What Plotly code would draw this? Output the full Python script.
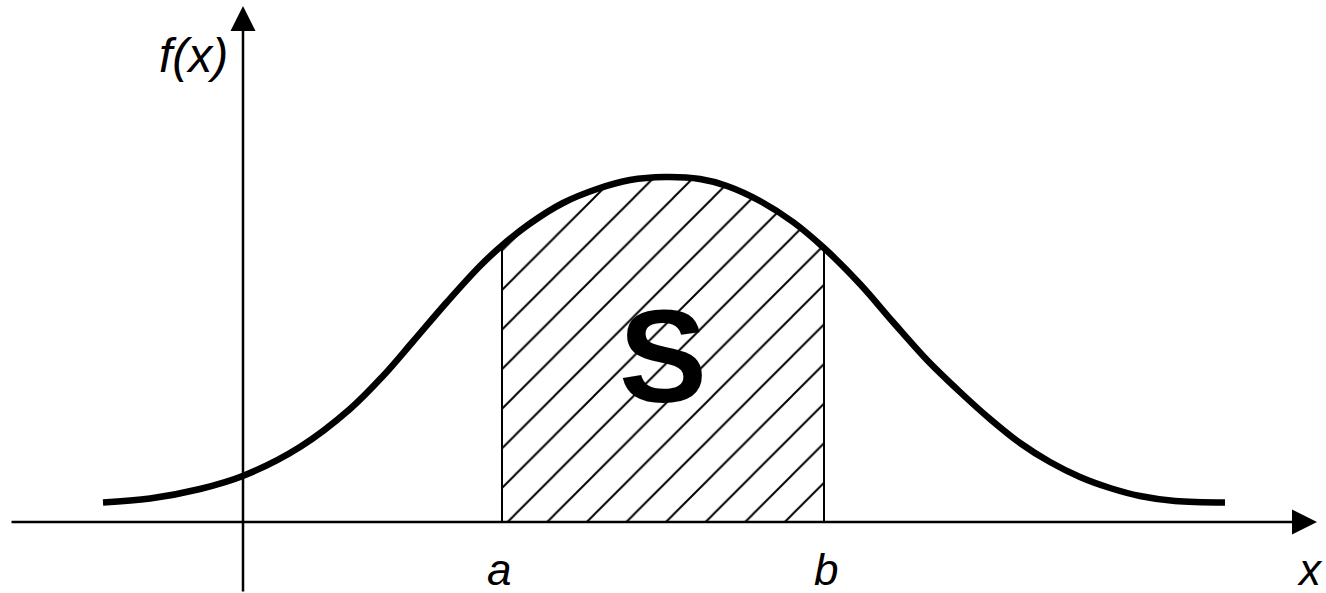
import numpy as np
import plotly.graph_objects as go

# Curve samples (x along the horizontal axis, f(x) height)
curve_x = [-1.40, -0.93, -0.43, 0.01, 0.57, 1.07, 1.40, 1.70, 2.04, 2.37, 2.59, 2.87,
           3.20, 3.54, 3.87, 4.22, 4.57, 4.84, 5.17, 5.50, 5.81, 6.17, 6.50, 6.84,
           7.17, 7.47, 7.77, 8.07, 8.37, 8.67, 8.97, 9.32, 9.82]
curve_y = [0.195, 0.235, 0.33, 0.465, 0.75, 1.13, 1.46, 1.805, 2.20, 2.56, 2.765, 2.985,
           3.19, 3.33, 3.42, 3.45, 3.43, 3.36, 3.21, 3.00, 2.74, 2.38, 2.00, 1.62,
           1.30, 1.03, 0.79, 0.60, 0.45, 0.34, 0.26, 0.21, 0.195]

# Integration bounds
bound_labels = ["a", "b"]
bound_x = [2.59, 5.81]

# Axis extents
x_axis_start, x_axis_end = -2.33, 10.74
y_axis_start, y_axis_end = -0.71, 5.16

cx = np.array(curve_x)
cy = np.array(curve_y)
mask = (cx >= bound_x[0]) & (cx <= bound_x[1])

fig = go.Figure()

# Hatched area S
fig.add_trace(go.Scatter(
    x=cx[mask], y=cy[mask], mode="lines", line=dict(width=0, shape="spline", color="black"),
    fill="tozeroy", fillcolor="white",
    fillpattern=dict(shape="/", size=28, solidity=0.07, fgcolor="black", bgcolor="white",
                     fgopacity=1),
    hoverinfo="skip"))

# Vertical boundaries at a and b
vx, vy = [], []
for bx in bound_x:
    fy = cy[np.argmin(np.abs(cx - bx))]
    vx += [bx, bx, None]
    vy += [0, fy, None]
fig.add_trace(go.Scatter(x=vx, y=vy, mode="lines", line=dict(width=2, color="black"),
                         hoverinfo="skip"))

# Bell curve
fig.add_trace(go.Scatter(x=cx, y=cy, mode="lines",
                         line=dict(width=6.5, color="black", shape="spline", smoothing=1.0),
                         hoverinfo="skip"))

annotations = []
# Axes with arrows
annotations.append(dict(x=x_axis_end, y=0, ax=x_axis_start, ay=0, xref="x", yref="y",
                        axref="x", ayref="y", text="", showarrow=True, arrowhead=2,
                        arrowsize=2, arrowwidth=2.5, arrowcolor="black", standoff=0))
annotations.append(dict(x=0, y=y_axis_end, ax=0, ay=y_axis_start, xref="x", yref="y",
                        axref="x", ayref="y", text="", showarrow=True, arrowhead=2,
                        arrowsize=2, arrowwidth=2.5, arrowcolor="black", standoff=0))

label_font = dict(family="Liberation Sans, Arial, sans-serif", size=44, color="black")
for lbl, bx in zip(bound_labels, bound_x):
    annotations.append(dict(x=bx - 0.03 if lbl == "a" else bx + 0.02, y=-0.47,
                            text=f"<i>{lbl}</i>", showarrow=False, font=label_font))
annotations.append(dict(x=10.67, y=-0.47, text="<i>x</i>", showarrow=False, font=label_font))
annotations.append(dict(x=-0.50, y=4.67, text="<i>f(x)</i>", showarrow=False,
                        font=dict(family="Liberation Sans, Arial, sans-serif", size=48, color="black")))
annotations.append(dict(x=4.20, y=1.66, text="<b>S</b>", showarrow=False,
                        font=dict(family="Liberation Sans, Arial, sans-serif", size=132, color="black")))

fig.update_layout(
    width=1326, height=593,
    margin=dict(l=0, r=0, t=0, b=0),
    paper_bgcolor="white", plot_bgcolor="white",
    showlegend=False, hovermode=False,
    xaxis=dict(visible=False, range=[-2.43, 10.83], fixedrange=True),
    yaxis=dict(visible=False, range=[-0.71, 5.22], fixedrange=True),
    annotations=annotations,
)

fig.write_html("out.html", config={"displayModeBar": False, "staticPlot": True},
               post_script="document.body.style.margin='0';")
